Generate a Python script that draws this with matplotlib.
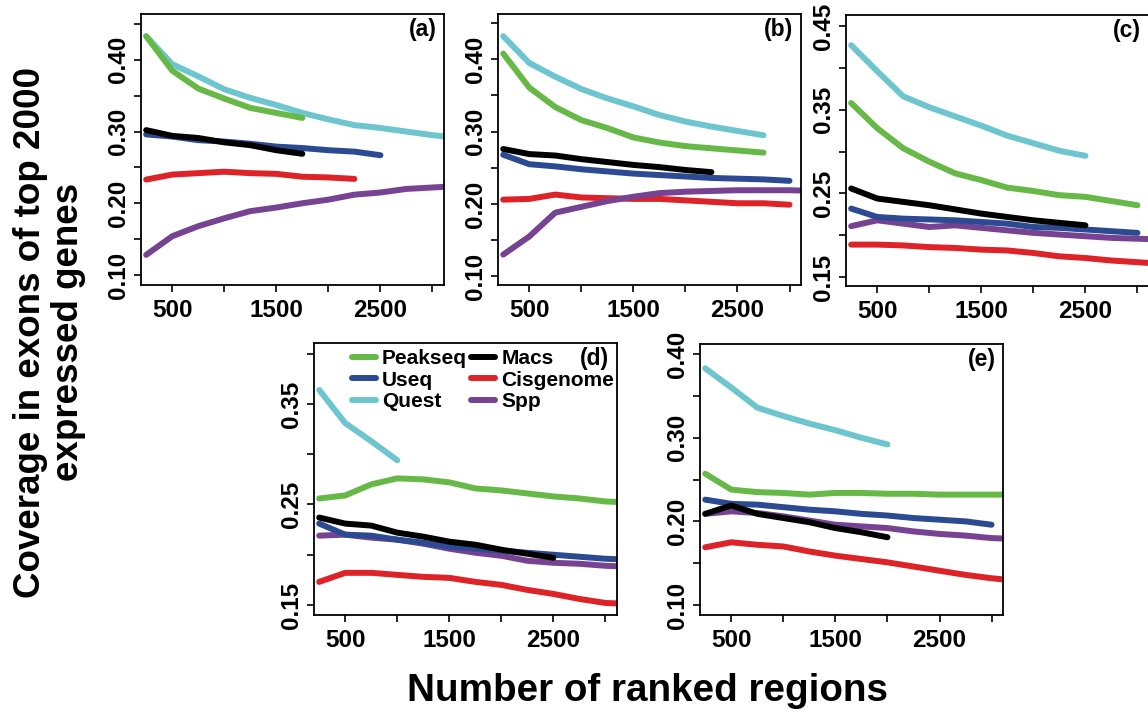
import matplotlib
matplotlib.use("Agg")
import matplotlib.pyplot as plt

plt.rcParams['font.family'] = ['Liberation Sans', 'DejaVu Sans']
plt.rcParams['font.weight'] = 'bold'

# number of ranked regions, shared by every panel (series stop early where a caller ran out)
ranks = [250, 500, 750, 1000, 1250, 1500, 1750, 2000, 2250, 2500, 2750, 3000, 3250]

methods = ['Peakseq', 'Useq', 'Quest', 'Macs', 'Cisgenome', 'Spp']
colors = {'Peakseq': '#66b946', 'Useq': '#2c4a91', 'Quest': '#6dc5cf',
          'Macs': '#000000', 'Cisgenome': '#dd2327', 'Spp': '#764291'}
draw_order = ['Quest', 'Peakseq', 'Cisgenome', 'Spp', 'Useq', 'Macs']

# coverage values, panel (a)
a_peakseq = [0.433, 0.385, 0.360, 0.346, 0.333, 0.326, 0.319]
a_useq = [0.296, 0.293, 0.288, 0.286, 0.283, 0.279, 0.277, 0.274, 0.272, 0.267]
a_quest = [0.433, 0.394, 0.377, 0.359, 0.347, 0.337, 0.326, 0.317, 0.309, 0.305, 0.300, 0.295, 0.291]
a_macs = [0.302, 0.294, 0.291, 0.285, 0.281, 0.274, 0.269]
a_cisgenome = [0.233, 0.240, 0.242, 0.244, 0.242, 0.241, 0.237, 0.236, 0.234]
a_spp = [0.128, 0.154, 0.168, 0.179, 0.189, 0.194, 0.200, 0.205, 0.212, 0.215, 0.220, 0.222, 0.224]

# panel (b)
b_peakseq = [0.408, 0.361, 0.334, 0.316, 0.305, 0.292, 0.285, 0.280, 0.277, 0.274, 0.271]
b_useq = [0.268, 0.255, 0.252, 0.248, 0.245, 0.242, 0.240, 0.238, 0.236, 0.235, 0.234, 0.232]
b_quest = [0.432, 0.395, 0.376, 0.359, 0.346, 0.335, 0.323, 0.314, 0.307, 0.301, 0.295]
b_macs = [0.276, 0.269, 0.267, 0.262, 0.258, 0.254, 0.251, 0.247, 0.244]
b_cisgenome = [0.206, 0.207, 0.213, 0.209, 0.208, 0.207, 0.207, 0.205, 0.203, 0.201, 0.201, 0.199]
b_spp = [0.130, 0.155, 0.188, 0.196, 0.204, 0.210, 0.215, 0.217, 0.218, 0.219, 0.219, 0.219, 0.218]

# panel (c)
c_peakseq = [0.358, 0.328, 0.304, 0.288, 0.274, 0.266, 0.257, 0.253, 0.248, 0.246, 0.241, 0.236]
c_useq = [0.232, 0.222, 0.220, 0.219, 0.218, 0.216, 0.214, 0.210, 0.209, 0.207, 0.205, 0.203]
c_quest = [0.427, 0.396, 0.366, 0.353, 0.342, 0.331, 0.319, 0.310, 0.301, 0.295]
c_macs = [0.256, 0.244, 0.240, 0.236, 0.231, 0.226, 0.222, 0.218, 0.215, 0.212]
c_cisgenome = [0.189, 0.189, 0.188, 0.186, 0.185, 0.183, 0.182, 0.179, 0.175, 0.173, 0.170, 0.168, 0.166]
c_spp = [0.211, 0.218, 0.214, 0.210, 0.212, 0.209, 0.206, 0.203, 0.201, 0.199, 0.197, 0.196, 0.195]

# panel (d)
d_peakseq = [0.256, 0.259, 0.270, 0.276, 0.275, 0.272, 0.266, 0.264, 0.261, 0.258, 0.256, 0.253, 0.252]
d_useq = [0.231, 0.220, 0.219, 0.215, 0.212, 0.208, 0.206, 0.204, 0.202, 0.200, 0.198, 0.196, 0.195]
d_quest = [0.364, 0.331, 0.313, 0.294]
d_macs = [0.237, 0.231, 0.229, 0.222, 0.218, 0.213, 0.210, 0.205, 0.201, 0.197]
d_cisgenome = [0.173, 0.182, 0.182, 0.180, 0.178, 0.177, 0.173, 0.170, 0.165, 0.161, 0.156, 0.152, 0.151]
d_spp = [0.219, 0.220, 0.217, 0.215, 0.211, 0.206, 0.202, 0.199, 0.194, 0.192, 0.191, 0.189, 0.188]

# panel (e)
e_peakseq = [0.257, 0.238, 0.235, 0.234, 0.232, 0.234, 0.234, 0.233, 0.233, 0.232, 0.232, 0.232, 0.232]
e_useq = [0.226, 0.221, 0.220, 0.217, 0.214, 0.212, 0.209, 0.207, 0.204, 0.202, 0.200, 0.196]
e_quest = [0.383, 0.360, 0.336, 0.326, 0.317, 0.309, 0.300, 0.292]
e_macs = [0.209, 0.219, 0.209, 0.204, 0.199, 0.192, 0.187, 0.181]
e_cisgenome = [0.169, 0.175, 0.172, 0.170, 0.164, 0.159, 0.155, 0.151, 0.146, 0.141, 0.136, 0.132, 0.129]
e_spp = [0.209, 0.212, 0.210, 0.206, 0.201, 0.196, 0.194, 0.192, 0.188, 0.185, 0.183, 0.180, 0.179]

panels = [
    ('(a)', [a_peakseq, a_useq, a_quest, a_macs, a_cisgenome, a_spp]),
    ('(b)', [b_peakseq, b_useq, b_quest, b_macs, b_cisgenome, b_spp]),
    ('(c)', [c_peakseq, c_useq, c_quest, c_macs, c_cisgenome, c_spp]),
    ('(d)', [d_peakseq, d_useq, d_quest, d_macs, d_cisgenome, d_spp]),
    ('(e)', [e_peakseq, e_useq, e_quest, e_macs, e_cisgenome, e_spp]),
]

# axes boxes in figure fractions and the y range of each panel
boxes = [[0.1228, 0.6003, 0.2639, 0.3801],
         [0.4338, 0.6003, 0.2639, 0.3801],
         [0.7369, 0.5989, 0.2639, 0.3801],
         [0.2735, 0.1374, 0.2639, 0.3811],
         [0.6098, 0.1374, 0.2639, 0.3800]]
ylims = [(0.086, 0.464), (0.088, 0.4627), (0.1396, 0.4631), (0.140, 0.4104), (0.088, 0.412)]
yticks = [[0.10, 0.15, 0.20, 0.25, 0.30, 0.35, 0.40, 0.45],
          [0.10, 0.15, 0.20, 0.25, 0.30, 0.35, 0.40, 0.45],
          [0.15, 0.20, 0.25, 0.30, 0.35, 0.40, 0.45],
          [0.15, 0.20, 0.25, 0.30, 0.35, 0.40],
          [0.10, 0.15, 0.20, 0.25, 0.30, 0.35, 0.40]]
xticks = [500, 1000, 1500, 2000, 2500, 3000]

fig = plt.figure(figsize=(11.48, 7.13), dpi=100)

for i, (tag, series) in enumerate(panels):
    ax = fig.add_axes(boxes[i])
    data = dict(zip(methods, series))
    handles = {}
    for m in draw_order:
        y = data[m]
        ln, = ax.plot(ranks[:len(y)], y, color=colors[m], lw=4.3,
                      solid_capstyle='round', solid_joinstyle='round', label=m)
        handles[m] = ln
    ax.set_xlim(200, 3110)
    ax.set_ylim(*ylims[i])

    ax.set_xticks(xticks)
    ax.set_xticklabels([str(t) if t % 1000 == 500 else '' for t in xticks])
    # every other y tick carries a label
    ax.set_yticks(yticks[i])
    ax.set_yticklabels(['%.2f' % t if k % 2 == 0 else '' for k, t in enumerate(yticks[i])],
                       rotation=90, va='center')
    ax.tick_params(direction='out', length=5, width=1.2, labelsize=17.5, pad=3)
    ax.tick_params(axis='x', pad=5)
    for s in ax.spines.values():
        s.set_linewidth(1.3)
    ax.text(0.975, 0.985, tag, transform=ax.transAxes, ha='right', va='top',
            fontsize=16.5, fontweight='bold')

    if tag == '(d)':
        ax.legend([handles[m] for m in methods], methods, ncol=2, loc='upper left',
                  bbox_to_anchor=(0.125, 0.978), frameon=False, fontsize=15,
                  handlelength=1.15, handletextpad=0.3, columnspacing=0.2,
                  labelspacing=0.12, borderpad=0, borderaxespad=0)

fig.text(0.043, 0.534, 'Coverage in exons of top 2000\nexpressed genes', rotation=90,
         ha='center', va='center', multialignment='center', fontsize=26.5,
         fontweight='bold', linespacing=1.1)
fig.text(0.5636, 0.0173, 'Number of ranked regions', ha='center', va='baseline',
         fontsize=27.8, fontweight='bold')

fig.savefig('out.png', dpi=100)
